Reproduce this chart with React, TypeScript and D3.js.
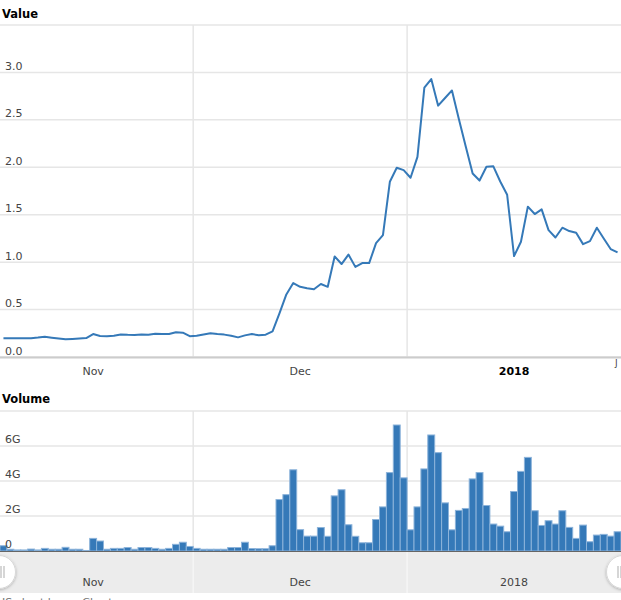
import React from "react";
import * as d3 from "d3";

const START = new Date(Date.UTC(2017, 10, 3));
const END = new Date(Date.UTC(2018, 1, 1));
const dates: Date[] = d3.utcDay.range(START, END);

const values: number[] = [
  0.197, 0.197, 0.197, 0.197, 0.198, 0.205, 0.214, 0.204, 0.195, 0.186,
  0.19, 0.195, 0.2, 0.242, 0.222, 0.22, 0.225, 0.238, 0.234, 0.232,
  0.238, 0.235, 0.246, 0.243, 0.242, 0.26, 0.256, 0.22, 0.224, 0.238,
  0.25, 0.242, 0.236, 0.225, 0.207, 0.228, 0.242, 0.23, 0.235, 0.27,
  0.46, 0.66, 0.78, 0.74, 0.725, 0.715, 0.77, 0.74, 1.06, 0.98,
  1.08, 0.95, 0.99, 0.99, 1.2, 1.285, 1.847, 1.995, 1.97, 1.89,
  2.11, 2.84, 2.93, 2.65, 2.73, 2.81, 2.51, 2.22, 1.935, 1.86,
  2.005, 2.01, 1.85, 1.71, 1.064, 1.215, 1.585, 1.507, 1.556, 1.338,
  1.26, 1.363, 1.328, 1.31, 1.19, 1.222, 1.363, 1.25, 1.138, 1.103,
];

// volume in billions
const volumesG: number[] = [
  0.3, 0.1, 0.06, 0.06, 0.11, 0.06, 0.15, 0.1, 0.1, 0.21,
  0.1, 0.1, 0.03, 0.72, 0.57, 0.1, 0.15, 0.15, 0.2, 0.1,
  0.2, 0.2, 0.15, 0.1, 0.15, 0.38, 0.5, 0.26, 0.15, 0.1,
  0.1, 0.1, 0.1, 0.2, 0.2, 0.5, 0.14, 0.13, 0.13, 0.3,
  2.94, 3.22, 4.64, 1.22, 0.85, 0.85, 1.34, 0.84, 3.15, 3.5,
  1.5, 0.84, 0.47, 0.47, 1.8, 2.52, 4.48, 7.2, 4.18, 1.21,
  2.52, 4.69, 6.63, 5.62, 2.75, 1.21, 2.32, 2.43, 4.12, 4.48,
  2.6, 1.54, 1.42, 1.1, 3.4, 4.55, 5.35, 2.3, 1.46, 1.73,
  1.54, 2.3, 1.35, 0.72, 1.48, 0.53, 0.91, 0.95, 0.85, 1.1,
];

const valueTicks: number[] = [0, 0.5, 1, 1.5, 2, 2.5, 3, 3.5];
const volumeTicks: number[] = [0, 2e9, 4e9, 6e9, 8e9];
const monthLabels: string[] = ["Nov", "Dec", "2018"];
const monthBold: boolean[] = [false, false, true];

const W = 621;
const H = 600;
const FONT = "'DejaVu Sans', Verdana, sans-serif";
const BLUE = "#3579b8";
const GRID = "#e6e6e6";

export default function App() {
  const x = d3.scaleUtc().domain([START, END]).range([0, W]);
  const cell = (d: Date) => x(d3.utcDay.offset(d, 1)) - x(d);
  const cx = (d: Date) => x(d) + cell(d) / 2;

  const yV = d3.scaleLinear().domain([0, 3.5]).range([357, 25]);
  const yVol = d3.scaleLinear().domain([0, 8e9]).range([551, 411]);

  const monthStarts = d3.utcMonth.range(START, END);
  const labelMonths = [
    new Date(Date.UTC(2017, 10, 16, 12)),
    new Date(Date.UTC(2017, 11, 16, 12)),
    new Date(Date.UTC(2018, 0, 16, 12)),
  ];

  const line = d3
    .line<number>()
    .x((_, i) => cx(dates[i]))
    .y((v) => yV(v));

  const fmtV = d3.format(".1f");
  const fmtVol = (v: number) => (v === 0 ? "0" : `${v / 1e9}G`);

  return (
    <svg
      width={W}
      height={H}
      style={{ position: "absolute", left: 0, top: 0, overflow: "hidden" }}
      fontFamily={FONT}
    >
      <rect x={0} y={0} width={W} height={H} fill="#fff" />

      {/* ---------- Value panel ---------- */}
      <text x={2} y={18} fontSize={11.5} fontWeight="bold" fill="#000">
        Value
      </text>
      {valueTicks.map((t) => (
        <line key={"vg" + t} x1={0} x2={W} y1={yV(t)} y2={yV(t)} stroke={GRID} strokeWidth={1.5} />
      ))}
      {monthStarts.map((m) => (
        <line key={"vm" + m.getTime()} x1={x(m)} x2={x(m)} y1={yV(3.5)} y2={yV(0)} stroke={GRID} strokeWidth={1.5} />
      ))}
      <line x1={0} x2={W} y1={yV(0) + 0.5} y2={yV(0) + 0.5} stroke="#cccccc" strokeWidth={2} />
      {valueTicks
        .filter((t) => t < 3.5)
        .map((t) => (
          <text key={"vl" + t} x={5} y={yV(t) - 2.5} fontSize={11} fill="#444">
            {fmtV(t)}
          </text>
        ))}
      <path d={line(values) || ""} fill="none" stroke={BLUE} strokeWidth={2} strokeLinejoin="round" />
      {monthLabels.map((lab, i) => (
        <text
          key={"xl" + lab}
          x={x(labelMonths[i])}
          y={375}
          fontSize={11}
          textAnchor="middle"
          fontWeight={monthBold[i] ? "bold" : "normal"}
          fill={monthBold[i] ? "#000" : "#444"}
        >
          {lab}
        </text>
      ))}
      <text x={615} y={366} fontSize={9} fill="#444">J</text>

      {/* ---------- Volume panel ---------- */}
      <text x={2} y={403} fontSize={11.5} fontWeight="bold" fill="#000">
        Volume
      </text>
      {volumeTicks.map((t) => (
        <line key={"bg" + t} x1={0} x2={W} y1={yVol(t)} y2={yVol(t)} stroke={GRID} strokeWidth={1.5} />
      ))}
      {monthStarts.map((m) => (
        <line key={"bm" + m.getTime()} x1={x(m)} x2={x(m)} y1={yVol(8e9)} y2={yVol(0)} stroke={GRID} strokeWidth={1.5} />
      ))}
      {volumesG.map((v, i) => {
        const d = dates[i];
        const y0 = yVol(v * 1e9);
        return (
          <rect
            key={"b" + i}
            x={x(d)}
            y={y0}
            width={cell(d)}
            height={yVol(0) - y0}
            fill={BLUE}
            stroke="#8cb3da"
            strokeWidth={1}
          />
        );
      })}
      <line x1={0} x2={W} y1={yVol(0) + 0.5} y2={yVol(0) + 0.5} stroke="#666" strokeWidth={1} />
      {volumeTicks
        .filter((t) => t < 8e9)
        .map((t) => (
          <text key={"bl" + t} x={5} y={yVol(t) - 3} fontSize={11} fill="#444">
            {fmtVol(t)}
          </text>
        ))}

      {/* ---------- Navigator ---------- */}
      <rect x={0} y={552} width={W} height={41} fill="#ececec" />
      {monthStarts.map((m) => (
        <line key={"nm" + m.getTime()} x1={x(m)} x2={x(m)} y1={552} y2={593} stroke="#f6f6f6" strokeWidth={1.5} />
      ))}
      {monthLabels.map((lab, i) => (
        <text key={"nl" + lab} x={x(labelMonths[i])} y={586} fontSize={11} textAnchor="middle" fill="#444">
          {lab}
        </text>
      ))}
      <defs>
        <filter id="sh" x="-50%" y="-50%" width="200%" height="200%">
          <feDropShadow dx={0} dy={1} stdDeviation={1.5} floodColor="#000" floodOpacity={0.25} />
        </filter>
      </defs>
      <circle cx={-1} cy={572} r={16.5} fill="#fff" stroke="#d8d8d8" strokeWidth={1} filter="url(#sh)" />
      <line x1={1} x2={1} y1={566} y2={578} stroke="#bbb" strokeWidth={1.2} />
      <line x1={4} x2={4} y1={566} y2={578} stroke="#bbb" strokeWidth={1.2} />
      <circle cx={623} cy={572} r={16.5} fill="#fff" stroke="#d8d8d8" strokeWidth={1} filter="url(#sh)" />
      <line x1={618} x2={618} y1={566} y2={578} stroke="#bbb" strokeWidth={1.2} />
      <line x1={621} x2={621} y1={566} y2={578} stroke="#bbb" strokeWidth={1.2} />

      <text x={2} y={606} fontSize={11} fill="#777">JS chart by amCharts</text>
    </svg>
  );
}
